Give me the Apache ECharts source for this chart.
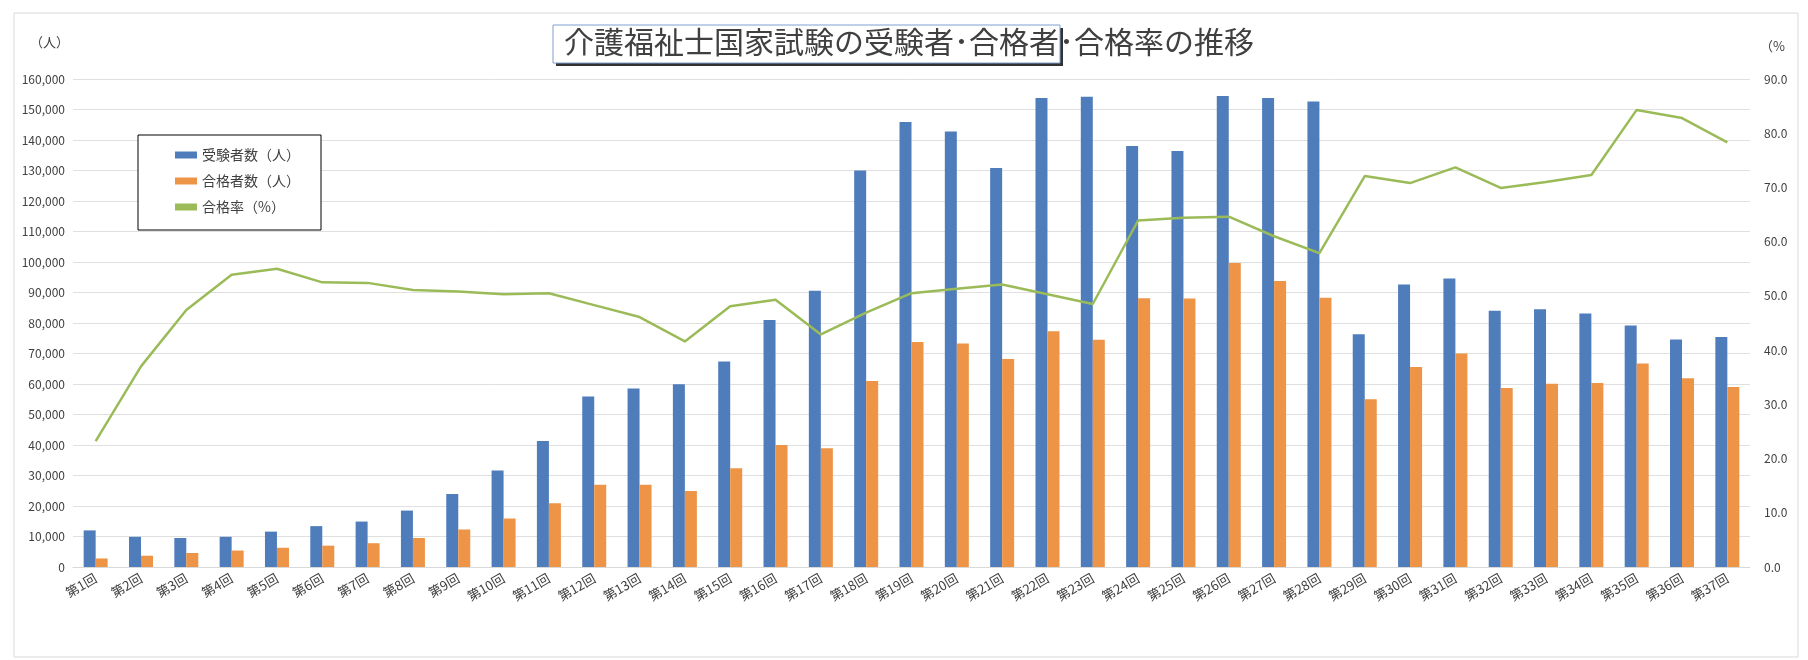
<!DOCTYPE html>
<html><head><meta charset="utf-8">
<script src="https://cdn.jsdelivr.net/npm/echarts@6/dist/echarts.min.js"></script>
<style>html,body{margin:0;padding:0;background:#fff}#c{width:1808px;height:660px}</style>
</head><body><div id="c"></div>
<script>
const categories = Array.from({length:37},(_,i)=>'第'+(i+1)+'回');
const examinees = [12000,9900,9500,9900,11600,13400,14900,18500,23900,31600,41300,55900,58500,59900,67400,81000,90600,130000,145900,142800,130800,153800,154200,138000,136400,154400,153800,152600,76300,92600,94600,84000,84500,83100,79200,74600,75400];
const passers = [2800,3700,4600,5400,6300,7000,7800,9500,12300,15900,20900,27000,27000,24900,32400,40000,38900,61000,73800,73300,68200,77300,74500,88100,88000,99700,93800,88300,55000,65600,70000,58700,60100,60300,66700,61900,59000];
const passRate = [23.2,37.0,47.4,53.9,55.0,52.5,52.4,51.1,50.8,50.3,50.5,48.3,46.1,41.6,48.1,49.3,42.9,46.9,50.5,51.3,52.1,50.3,48.5,63.9,64.4,64.6,61.0,57.9,72.1,70.8,73.7,69.9,71.0,72.3,84.3,82.8,78.3];
const font = '"Noto Sans CJK JP", "Noto Sans", sans-serif';
const chart = echarts.init(document.getElementById('c'));
chart.setOption({
  animation:false,
  textStyle:{fontFamily:font},
  graphic:[
    {type:'rect',shape:{x:14,y:13,width:1784,height:644},style:{fill:'none',stroke:'#d9d9d9',lineWidth:1},z:-10},
    {type:'rect',shape:{x:556,y:28,width:507,height:38},style:{fill:'#333'},z:5},
    {type:'rect',shape:{x:553,y:25,width:507,height:38},style:{fill:'#fff',stroke:'#7f9fcf',lineWidth:1},z:6},
    {type:'text',left:564,top:27,style:{text:'介護福祉士国家試験の受験者･合格者･合格率の推移',font:'30px '+font,fill:'#404040'},z:7},
    {type:'text',left:30,top:36,style:{text:'（人）',font:'13px '+font,fill:'#404040'}},
    {type:'text',left:1760,top:40,style:{text:'（%',font:'13px '+font,fill:'#404040'}},
    {type:'rect',shape:{x:138,y:135,width:183,height:95},style:{fill:'#fff',stroke:'#000',lineWidth:1},z:1}
  ],
  legend:{orient:'vertical',left:170,top:143,itemGap:12,itemWidth:22,itemHeight:7,
    textStyle:{fontSize:14,color:'#404040',fontFamily:font},
    data:[{name:'受験者数（人）',icon:'rect'},{name:'合格者数（人）',icon:'rect'},{name:'合格率（%）',icon:'rect',itemStyle:{color:'#9bbb59'}}],z:10},
  grid:{left:73,right:58,top:79,bottom:93},
  xAxis:{type:'category',data:categories,axisTick:{show:false},
    axisLine:{lineStyle:{color:'#d9d9d9'}},
    axisLabel:{rotate:30,fontSize:13,color:'#404040',interval:0,margin:10}},
  yAxis:[
    {type:'value',min:0,max:160000,interval:10000,
     axisLabel:{fontSize:12,color:'#404040',formatter:v=>v.toLocaleString('en-US')},
     splitLine:{lineStyle:{color:'#e0e0e0'}}},
    {type:'value',min:0,max:90,interval:10,
     axisLabel:{fontSize:12,color:'#404040',formatter:v=>v.toFixed(1),margin:14},
     splitLine:{show:false}}
  ],
  series:[
    {name:'受験者数（人）',type:'bar',data:examinees,barWidth:12,barGap:'0%',itemStyle:{color:'#4f7dbb'}},
    {name:'合格者数（人）',type:'bar',data:passers,barWidth:12,itemStyle:{color:'#ed9447'}},
    {name:'合格率（%）',type:'line',yAxisIndex:1,data:passRate,symbol:'none',lineStyle:{color:'#9bbb59',width:2.5},itemStyle:{color:'#9bbb59'}}
  ]
});
</script></body></html>
